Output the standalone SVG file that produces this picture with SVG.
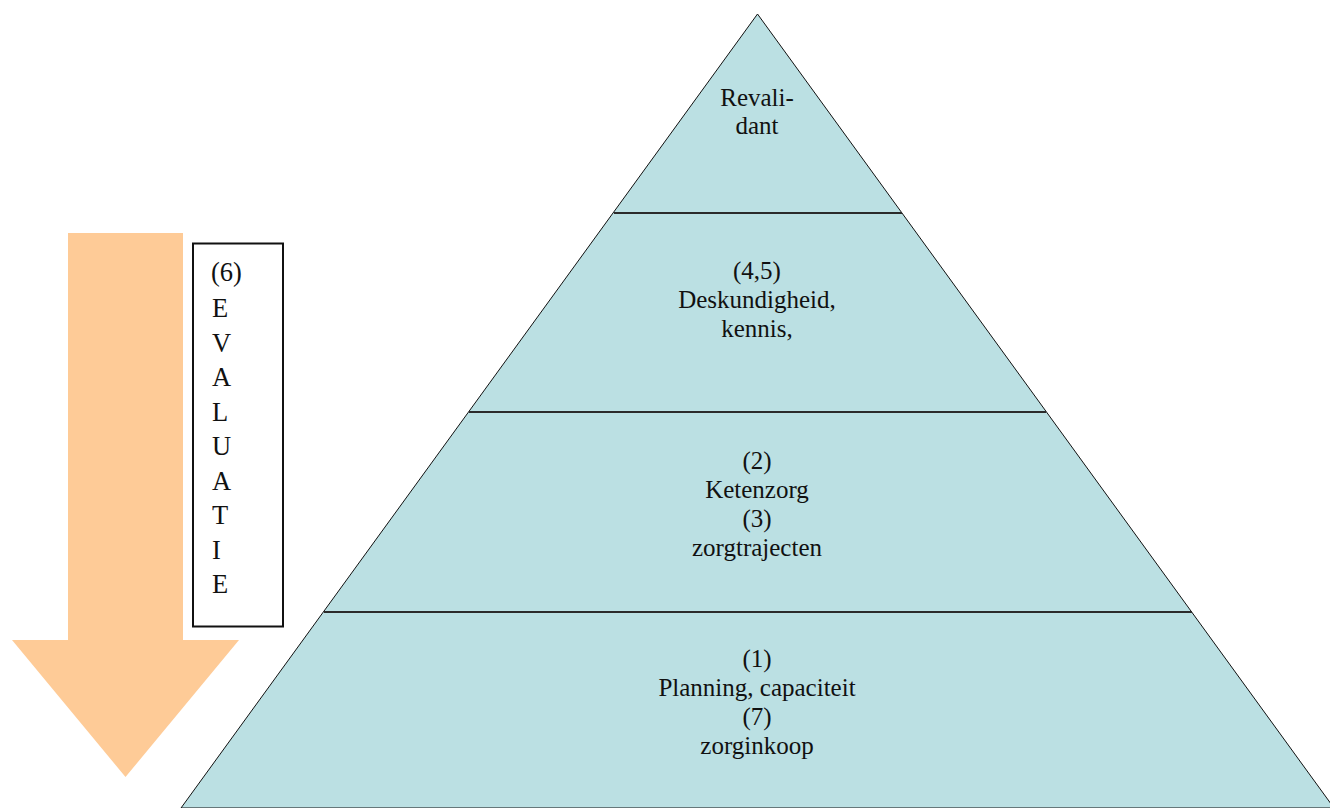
<svg xmlns="http://www.w3.org/2000/svg" width="1330" height="808" viewBox="0 0 1330 808">
<style>
.t{font-family:'Liberation Serif','Times New Roman',Times,'DejaVu Serif',serif;font-size:25px;fill:#111;text-anchor:middle}
.b{font-family:'Liberation Serif','Times New Roman',Times,'DejaVu Serif',serif;font-size:26.5px;fill:#111}
.div{stroke:#2b2b2b;stroke-width:2;fill:none}
</style>
<rect width="1330" height="808" fill="#fff"/>
<g id="arrow">
<polygon points="68,233 183,233 183,640 239,640 125.5,777 12,640 68,640" fill="#FECB97"/>
</g>
<g id="evaluatie">
<rect x="193" y="243.5" width="90" height="383" fill="#fff" stroke="#111" stroke-width="2"/>
<text class="b" x="211" y="281">(6)</text>
<text class="b" x="212" y="317">E</text>
<text class="b" x="212" y="351.5">V</text>
<text class="b" x="212" y="386">A</text>
<text class="b" x="212" y="420.5">L</text>
<text class="b" x="212" y="455">U</text>
<text class="b" x="212" y="489.5">A</text>
<text class="b" x="212" y="524">T</text>
<text class="b" x="212" y="558.5">I</text>
<text class="b" x="212" y="593">E</text>
</g>
<g id="pyramid">
<polygon points="757.5,14 1334,808 181,808" fill="#BBE0E3" stroke="#111" stroke-width="1"/>
</g>
<g id="connectors">
<line class="div" x1="614" y1="213" x2="902" y2="213"/>
<line class="div" x1="469" y1="412" x2="1046" y2="412"/>
<line class="div" x1="324" y1="612" x2="1192" y2="612"/>
</g>
<g id="level-top">
<text class="t" x="757" y="106">Revali-</text>
<text class="t" x="757" y="134">dant</text>
</g>
<g id="level-2">
<text class="t" x="757" y="279">(4,5)</text>
<text class="t" x="757" y="308">Deskundigheid,</text>
<text class="t" x="757" y="337">kennis,</text>
</g>
<g id="level-3">
<text class="t" x="757" y="469">(2)</text>
<text class="t" x="757" y="498">Ketenzorg</text>
<text class="t" x="757" y="527">(3)</text>
<text class="t" x="757" y="556">zorgtrajecten</text>
</g>
<g id="level-base">
<text class="t" x="757" y="667">(1)</text>
<text class="t" x="757" y="696">Planning, capaciteit</text>
<text class="t" x="757" y="725">(7)</text>
<text class="t" x="757" y="754">zorginkoop</text>
</g>
</svg>
